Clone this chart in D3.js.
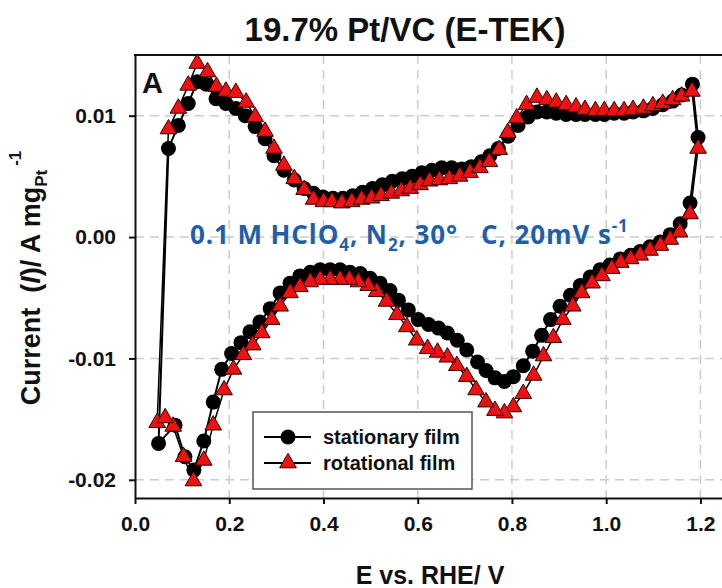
<!DOCTYPE html>
<html>
<head>
<meta charset="utf-8">
<script src="https://cdn.jsdelivr.net/npm/d3@7"></script>
<style>
body { margin: 0; background: #fff; }
svg text { font-family: "Liberation Sans", Arial, sans-serif; font-weight: bold; fill: #111; }
</style>
</head>
<body>
<svg width="722" height="588"></svg>
<script>
// E (V vs RHE), I (A mg_Pt^-1), in sweep order
var stationary = [
  [0.050,-0.0170],
  [0.071,0.0073],[0.092,0.0092],[0.113,0.0110],[0.132,0.0128],[0.151,0.0126],[0.172,0.0114],
  [0.193,0.0110],[0.214,0.0106],[0.234,0.0100],[0.255,0.0091],[0.276,0.0081],[0.295,0.0067],
  [0.316,0.0055],[0.338,0.0047],[0.359,0.0040],[0.379,0.0036],[0.399,0.0033],[0.420,0.0032],
  [0.441,0.0032],[0.462,0.0034],[0.483,0.0037],[0.504,0.0040],[0.525,0.0043],[0.546,0.0046],
  [0.567,0.0048],[0.588,0.0050],[0.609,0.0053],[0.630,0.0055],[0.651,0.0057],[0.672,0.0057],
  [0.693,0.0056],[0.714,0.0058],[0.735,0.0062],[0.753,0.0067],[0.771,0.0073],[0.792,0.0083],
  [0.813,0.0092],[0.834,0.0099],[0.853,0.0103],[0.874,0.0103],[0.894,0.0102],[0.915,0.0101],
  [0.936,0.0101],[0.955,0.0101],[0.977,0.0101],[0.996,0.0101],[1.017,0.0102],[1.038,0.0102],
  [1.057,0.0103],[1.079,0.0104],[1.099,0.0106],[1.120,0.0109],[1.141,0.0112],[1.160,0.0117],
  [1.183,0.0126],[1.195,0.0082],[1.178,0.0028],
  [1.157,0.0011],[1.136,0.0002],[1.115,-0.0004],[1.093,-0.0008],[1.072,-0.0012],[1.052,-0.0015],
  [1.030,-0.0018],[1.008,-0.0023],[0.987,-0.0027],[0.966,-0.0033],[0.945,-0.0040],[0.924,-0.0048],
  [0.902,-0.0057],[0.882,-0.0068],[0.863,-0.0081],[0.844,-0.0094],[0.824,-0.0106],[0.803,-0.0115],
  [0.784,-0.0119],[0.764,-0.0116],[0.745,-0.0110],[0.727,-0.0103],[0.704,-0.0093],[0.684,-0.0085],
  [0.663,-0.0079],[0.644,-0.0075],[0.623,-0.0072],[0.601,-0.0068],[0.580,-0.0060],[0.559,-0.0052],
  [0.541,-0.0044],[0.520,-0.0038],[0.499,-0.0034],[0.478,-0.0030],[0.456,-0.0029],[0.435,-0.0027],
  [0.414,-0.0027],[0.393,-0.0027],[0.372,-0.0029],[0.350,-0.0032],[0.329,-0.0038],[0.308,-0.0046],
  [0.287,-0.0059],[0.265,-0.0070],[0.244,-0.0078],[0.225,-0.0087],[0.205,-0.0096],[0.184,-0.0109],
  [0.166,-0.0136],[0.146,-0.0168],[0.125,-0.0192],[0.106,-0.0181],[0.085,-0.0155]
];

var rotational = [
  [0.047,-0.0153],
  [0.071,0.0089],[0.092,0.0106],[0.113,0.0125],[0.132,0.0143],[0.154,0.0136],[0.173,0.0124],
  [0.193,0.0120],[0.214,0.0119],[0.236,0.0111],[0.255,0.0099],[0.276,0.0087],[0.295,0.0073],
  [0.316,0.0059],[0.338,0.0048],[0.359,0.0039],[0.379,0.0031],[0.400,0.0029],[0.418,0.0029],
  [0.439,0.0028],[0.460,0.0029],[0.481,0.0031],[0.502,0.0032],[0.522,0.0034],[0.544,0.0036],
  [0.565,0.0038],[0.584,0.0040],[0.605,0.0043],[0.625,0.0046],[0.646,0.0047],[0.667,0.0048],
  [0.689,0.0050],[0.711,0.0053],[0.732,0.0057],[0.752,0.0062],[0.773,0.0072],[0.791,0.0086],
  [0.810,0.0098],[0.831,0.0109],[0.853,0.0115],[0.874,0.0113],[0.894,0.0111],[0.915,0.0109],
  [0.936,0.0107],[0.955,0.0105],[0.977,0.0104],[0.996,0.0104],[1.017,0.0104],[1.038,0.0104],
  [1.057,0.0105],[1.079,0.0106],[1.099,0.0108],[1.120,0.0110],[1.141,0.0113],[1.160,0.0116],
  [1.182,0.0120],[1.195,0.0073],[1.178,0.0019],[1.156,0.0004],
  [1.136,-0.0002],[1.115,-0.0007],[1.093,-0.0011],[1.072,-0.0015],[1.052,-0.0018],[1.031,-0.0021],
  [1.012,-0.0026],[0.991,-0.0032],[0.970,-0.0038],[0.948,-0.0046],[0.929,-0.0057],[0.908,-0.0068],
  [0.888,-0.0083],[0.867,-0.0098],[0.846,-0.0114],[0.824,-0.0129],[0.803,-0.0140],[0.784,-0.0145],
  [0.764,-0.0143],[0.745,-0.0136],[0.724,-0.0126],[0.704,-0.0115],[0.683,-0.0106],[0.663,-0.0099],
  [0.642,-0.0095],[0.621,-0.0092],[0.598,-0.0085],[0.577,-0.0074],[0.556,-0.0064],[0.534,-0.0053],
  [0.513,-0.0045],[0.495,-0.0040],[0.474,-0.0037],[0.455,-0.0035],[0.435,-0.0035],[0.414,-0.0035],
  [0.393,-0.0035],[0.372,-0.0037],[0.350,-0.0041],[0.329,-0.0046],[0.308,-0.0057],[0.290,-0.0068],
  [0.269,-0.0079],[0.250,-0.0089],[0.230,-0.0097],[0.209,-0.0109],[0.189,-0.0126],[0.166,-0.0155],
  [0.146,-0.0184],[0.124,-0.0201],[0.103,-0.0181],[0.081,-0.0156],[0.064,-0.0149]
];

var xTicks = [0, 0.2, 0.4, 0.6, 0.8, 1.0, 1.2];
var yTicks = [-0.02, -0.01, 0, 0.01];
var seriesNames = ["stationary film", "rotational film"];

var svg = d3.select("svg");
svg.append("rect").attr("width", 722).attr("height", 588).attr("fill", "#fff");

var x = d3.scaleLinear().domain([0, 1.25]).range([135, 724]);
var y = d3.scaleLinear().domain([-0.0215, 0.015]).range([498, 55]);

// grid
svg.append("g").selectAll("line").data(xTicks.filter(function(d){ return d > 0; }))
  .enter().append("line")
  .attr("x1", function(d){ return x(d); }).attr("x2", function(d){ return x(d); })
  .attr("y1", 55).attr("y2", 498)
  .attr("stroke", "#cccccc").attr("stroke-width", 1.5).attr("stroke-dasharray", "9,6");
svg.append("g").selectAll("line").data(yTicks)
  .enter().append("line")
  .attr("x1", 135).attr("x2", 724)
  .attr("y1", function(d){ return y(d); }).attr("y2", function(d){ return y(d); })
  .attr("stroke", "#cccccc").attr("stroke-width", 1.5).attr("stroke-dasharray", "9,6");

// axes
var xAxis = d3.axisBottom(x).tickValues(xTicks).tickSize(6).tickSizeOuter(0).tickPadding(12)
  .tickFormat(function(d){ return d.toFixed(1); });
var yAxis = d3.axisLeft(y).tickValues(yTicks).tickSize(6).tickSizeOuter(0).tickPadding(13)
  .tickFormat(function(d){ return d.toFixed(2); });

var gx = svg.append("g").attr("transform", "translate(0,498)").call(xAxis);
var gy = svg.append("g").attr("transform", "translate(135,0)").call(yAxis);
[gx, gy].forEach(function(g){
  g.select(".domain").attr("stroke", "#111").attr("stroke-width", 2);
  g.selectAll(".tick line").attr("stroke", "#111").attr("stroke-width", 2);
  g.selectAll(".tick text").attr("font-size", 21).attr("font-family", null).attr("fill", "#111");
});
svg.append("line").attr("x1", 134).attr("x2", 724).attr("y1", 55).attr("y2", 55)
  .attr("stroke", "#111").attr("stroke-width", 2);

// series
var line = d3.line()
  .x(function(d){ return x(d[0]); })
  .y(function(d){ return y(d[1]); })
  .curve(d3.curveLinearClosed);

var tri = d3.symbol().type(d3.symbolTriangle).size(120);

svg.append("path").datum(stationary).attr("d", line)
  .attr("fill", "none").attr("stroke", "#000").attr("stroke-width", 2);
svg.append("g").selectAll("circle").data(stationary).enter().append("circle")
  .attr("cx", function(d){ return x(d[0]); }).attr("cy", function(d){ return y(d[1]); })
  .attr("r", 7.5).attr("fill", "#000");

svg.append("path").datum(rotational).attr("d", line)
  .attr("fill", "none").attr("stroke", "#000").attr("stroke-width", 1.5);
svg.append("g").selectAll("path").data(rotational).enter().append("path")
  .attr("d", tri)
  .attr("transform", function(d){ return "translate(" + x(d[0]) + "," + y(d[1]) + ")"; })
  .attr("fill", "#ee1111").attr("stroke", "#300").attr("stroke-width", 1);

// panel letter and title
svg.append("text").attr("x", 142).attr("y", 93).attr("font-size", 29).text("A");
svg.append("text").attr("x", 405).attr("y", 41).attr("text-anchor", "middle")
  .attr("font-size", 33).text("19.7% Pt/VC (E-TEK)");

// axis titles
svg.append("text").attr("x", 430).attr("y", 584).attr("text-anchor", "middle")
  .attr("font-size", 25).text("E vs. RHE/ V");

var yl = svg.append("text").attr("transform", "translate(40,278) rotate(-90)")
  .attr("text-anchor", "middle").attr("font-size", 27).style("white-space", "pre");
yl.append("tspan").text("Current  (");
yl.append("tspan").attr("font-style", "italic").text("I");
yl.append("tspan").text(")/ A mg");
yl.append("tspan").attr("font-size", 17).attr("dy", 7).text("Pt");
yl.append("tspan").attr("font-size", 17).attr("dy", -26).attr("dx", 4).text("-1");

// condition note
var note = svg.append("text").attr("x", 190).attr("y", 244)
  .style("font-family", "'Open Sans', Lato, sans-serif").style("font-size", "26px")
  .style("font-weight", "700").style("letter-spacing", "0.9px")
  .style("fill", "#1f5fa8").style("white-space", "pre");
note.append("tspan").text("0.1 M HClO");
note.append("tspan").style("font-size", "17px").attr("dy", 7).text("4");
note.append("tspan").attr("dy", -7).text(", N");
note.append("tspan").style("font-size", "17px").attr("dy", 7).text("2");
note.append("tspan").attr("dy", -7).text(", 30°   C, 20mV s");
note.append("tspan").style("font-size", "17px").attr("dy", -12).text("-1");

// legend
var lg = svg.append("g");
lg.append("rect").attr("x", 253).attr("y", 412).attr("width", 219).attr("height", 77)
  .attr("fill", "#fff").attr("stroke", "#555").attr("stroke-width", 1.5);
seriesNames.forEach(function(name, i){
  var ly = 437 + i * 26;
  lg.append("line").attr("x1", 264).attr("x2", 311).attr("y1", ly).attr("y2", ly)
    .attr("stroke", "#000").attr("stroke-width", 2);
  if (i === 0) {
    lg.append("circle").attr("cx", 288).attr("cy", ly).attr("r", 7.5).attr("fill", "#000");
  } else {
    lg.append("path").attr("d", tri).attr("transform", "translate(288," + ly + ")")
      .attr("fill", "#ee1111").attr("stroke", "#300").attr("stroke-width", 1);
  }
  lg.append("text").attr("x", 323).attr("y", ly).attr("dy", "0.35em")
    .attr("font-size", 20).text(name);
});
</script>
</body>
</html>
